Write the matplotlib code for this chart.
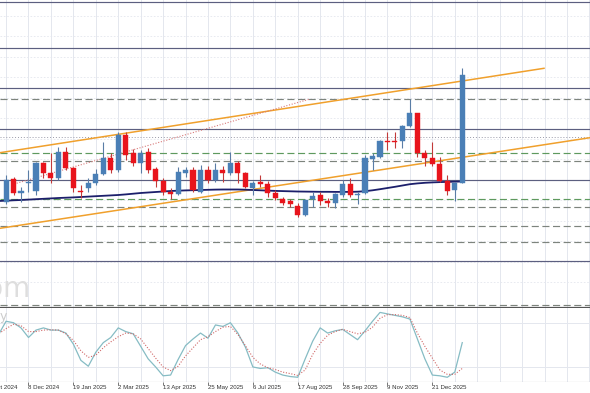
import matplotlib
matplotlib.use("Agg")
import matplotlib.pyplot as plt
import matplotlib.transforms as mtransforms
import numpy as np

# weekly candles, week index 3..64 (week 0 = 27 Oct 2024), price in chart units
weeks = list(range(3, 65))
opens = [98.3, 120.7, 106.7, 117.5, 109.3, 136.7, 126.7, 121.7, 148.3, 131.7, 109.0, 112.3, 116.7, 125.7,
         141.7, 130.0, 165.0, 146.7, 137.3, 148.3, 130.7, 119.3, 108.3, 106.0, 127.5, 130.0, 108.3, 130.0,
         120.0, 130.0, 126.7, 136.7, 126.7, 111.7, 117.7, 116.0, 106.7, 100.7, 99.0, 94.0, 85.0, 100.7,
         105.0, 99.3, 97.3, 105.0, 116.0, 105.0, 106.7, 141.0, 143.3, 159.3, 159.3, 159.0, 174.0, 186.7,
         147.3, 141.7, 136.0, 119.0, 109.7, 117.3]
highs = [125.0, 123.0, 113.3, 130.0, 138.3, 138.3, 147.0, 153.3, 153.3, 133.3, 115.0, 121.7, 131.0, 158.0,
         147.5, 168.3, 168.3, 150.7, 150.0, 151.7, 133.3, 121.7, 111.7, 133.3, 133.3, 133.3, 135.0, 134.0,
         136.7, 134.0, 148.3, 139.0, 128.0, 119.3, 125.0, 119.0, 110.0, 103.3, 100.7, 96.7, 101.0, 108.3,
         108.3, 101.7, 106.7, 120.0, 121.7, 108.3, 145.0, 146.7, 160.0, 168.3, 168.3, 175.0, 200.7, 187.3,
         150.0, 158.3, 143.3, 125.0, 118.3, 231.7]
lows = [96.0, 105.5, 98.3, 108.0, 105.0, 122.0, 117.0, 120.0, 130.0, 108.3, 102.0, 108.0, 115.0, 125.0,
        126.7, 128.0, 140.0, 134.0, 127.3, 126.7, 113.3, 105.0, 100.7, 105.0, 123.3, 108.3, 106.7, 116.7,
        118.0, 118.3, 125.0, 116.7, 111.7, 105.0, 113.3, 103.3, 100.0, 95.0, 93.3, 83.3, 84.0, 93.3,
        95.0, 93.3, 91.7, 103.3, 103.3, 96.0, 106.0, 130.0, 142.0, 150.0, 151.7, 151.7, 173.3, 143.3,
        134.0, 134.0, 118.3, 105.0, 99.0, 117.0]
closes = [120.0, 107.3, 109.3, 118.0, 136.7, 126.7, 121.7, 148.3, 131.7, 111.7, 108.5, 117.3, 125.7, 141.7,
          130.0, 165.0, 145.0, 137.3, 146.7, 130.0, 119.3, 108.3, 106.0, 128.3, 130.0, 110.0, 130.0, 120.0,
          130.0, 126.7, 136.7, 126.7, 112.7, 116.7, 116.0, 106.7, 101.7, 97.3, 95.7, 85.0, 100.0, 104.0,
          99.3, 97.3, 106.0, 116.0, 105.0, 106.0, 141.7, 144.0, 159.0, 158.3, 158.0, 174.0, 186.7, 147.3,
          141.7, 136.0, 119.0, 109.3, 117.3, 225.0]

# moving average, week index 2..64
ma_weeks = list(range(2, 65))
ma = [99.0, 99.3, 99.7, 100.0, 100.4, 100.8, 101.2, 101.6, 102.0, 102.3, 102.6, 103.0, 103.4, 103.8,
      104.2, 104.6, 105.0, 105.6, 106.3, 107.0, 107.5, 108.0, 108.5, 109.0, 109.3, 109.6, 109.8, 110.0,
      110.2, 110.4, 110.5, 110.5, 110.5, 110.3, 110.0, 109.7, 109.4, 109.1, 108.9, 108.7, 108.5, 108.4,
      108.3, 108.2, 108.2, 108.1, 108.1, 108.1, 108.3, 108.8, 109.7, 110.8, 112.0, 113.2, 114.5, 115.8,
      116.6, 117.2, 117.6, 117.9, 118.1, 118.3, 118.5]

# stochastic oscillator, week index 2..64
stoch_k = [64, 82, 80, 73, 60, 70, 73, 70, 70, 66, 51, 29, 21, 40, 53, 60, 73, 68, 65, 48, 31, 20, 8, 9,
           30, 49, 58, 66, 59, 77, 75, 80, 66, 47, 20, 18, 19, 13, 9, 7, 6, 31, 55, 73, 66, 69, 71, 64,
           57, 69, 82, 94, 92, 90, 88, 85, 58, 31, 9, 8, 6, 13, 53]
stoch_d = [65, 72, 78, 76, 68, 68, 70, 70.5, 70, 65, 56, 42, 33, 36, 46, 54, 61, 66, 65, 58, 45, 32, 20, 15,
           21, 35, 46, 57, 61, 68, 74, 75, 64, 49, 33, 24, 19, 16.5, 13, 11, 8.5, 16, 37, 52, 63, 68, 71, 68,
           65, 67, 74, 86, 91, 91, 90, 87, 66, 48, 32, 16, 10, 10, 18]

# horizontal levels
solid_levels = [298.5, 252, 212, 171, 120, 39]
dashed_levels = [201, 139, 93, 74, 58, -5]
green_levels = [147, 101]
dotted_levels = [163]

# trend lines (week index, price)
upper_trend = ([2.19, 74.93], [147.3, 231.7])
lower_trend = ([2.19, 81.08], [71.7, 162.3])
dotted_trend = ([4.06, 43.64], [116, 201])

tick_weeks = [0, 6, 12, 18, 24, 30, 36, 42, 48, 54, 60]
tick_labels = ["27 Oct 2024", "8 Dec 2024", "19 Jan 2025", "2 Mar 2025", "13 Apr 2025", "25 May 2025",
               "6 Jul 2025", "17 Aug 2025", "28 Sep 2025", "9 Nov 2025", "21 Dec 2025"]

fig = plt.figure(figsize=(5.9, 3.93), dpi=100)
ax = fig.add_axes([0, 85 / 393, 1, 308 / 393])
ax2 = fig.add_axes([0, 11.3 / 393, 1, 73.7 / 393])

xmin, xmax = 2.19, 81.08
grid_c = "#e4e7ee"
for a in (ax, ax2):
    a.set_xlim(xmin, xmax)
    for w in range(3, 82, 3):
        a.axvline(w, color=grid_c, lw=0.7, zorder=0)
    for s in a.spines.values():
        s.set_visible(False)
    a.set_yticks([])

ax.set_ylim(-8, 300)
ax.set_xticks([])
for lv in np.arange(18, 300, 20.5):
    ax.axhline(lv, color=grid_c, lw=0.6, ls=(0, (2, 2)), zorder=0)

for lv in solid_levels:
    ax.axhline(lv, color="#5c5f80", lw=0.85, zorder=1)
for lv in dashed_levels:
    ax.axhline(lv, color="#7d847d", lw=0.85, ls=(0, (6, 3)), zorder=1)
for lv in green_levels:
    ax.axhline(lv, color="#5e9a5e", lw=0.85, ls=(0, (6, 3)), zorder=1)
for lv in dotted_levels:
    ax.axhline(lv, color="#9a9aa8", lw=0.7, ls=(0, (1, 2)), zorder=1)
ax.axhline(-8, color="#555555", lw=1.6, zorder=1, clip_on=False)

ax.plot(*upper_trend, color="#f0a02c", lw=1.1, zorder=2)
ax.plot(*lower_trend, color="#f0a02c", lw=1.1, zorder=2)
ax.plot(*dotted_trend, color="#d87a7a", lw=0.8, ls=(0, (1, 1.5)), zorder=2)

ax.plot(ma_weeks, ma, color="#1c1f6b", lw=1.3, zorder=3)

o = np.array(opens)
c = np.array(closes)
up = c >= o
body_col = np.where(up, "#4a7fb6", "#e8141c")
wick_col = np.where(up, "#5a7da6", "#c23a3a")
bottoms = np.minimum(o, c)
heights = np.maximum(np.abs(c - o), 0.9)
ax.vlines(weeks, lows, highs, colors=wick_col, lw=0.8, zorder=4)
ax.bar(weeks, heights, bottom=bottoms, width=0.68, color=body_col, edgecolor=body_col,
       linewidth=0.3, zorder=5)

ax.text(2.19 + 31 / 7.479, 3, "com", fontsize=20, color="#dedede", ha="right", va="baseline", zorder=0)

# oscillator panel
ax2.set_ylim(0, 100)
for lv in (20, 80):
    ax2.axhline(lv, color=grid_c, lw=0.7, zorder=0)
ax2.plot(ma_weeks, stoch_k, color="#86bcc4", lw=0.9, zorder=3)
ax2.plot(ma_weeks, stoch_d, color="#d06868", lw=0.8, ls=(0, (1, 1.5)), zorder=3)
ax2.axhline(0, color="#9a9a9a", lw=0.8, zorder=2)
ax2.text(2.19 + 7 / 7.479, 88, "y", fontsize=9, color="#cccccc", ha="right", va="center")

ax2.set_xticks([w for w in tick_weeks if xmin <= w <= xmax])
ax2.set_xticklabels([])
ax2.tick_params(axis="x", length=2.5, width=0.7, color="#777777", pad=0)
trans = mtransforms.blended_transform_factory(ax2.transData, fig.transFigure)
for w, lab in zip(tick_weeks, tick_labels):
    ax2.text(w, 1 - 387.3 / 393, lab, transform=trans, fontsize=4.4, family="Liberation Sans",
             color="#333333", ha="left", va="center", clip_on=False)

fig.savefig("out.png", dpi=100)
